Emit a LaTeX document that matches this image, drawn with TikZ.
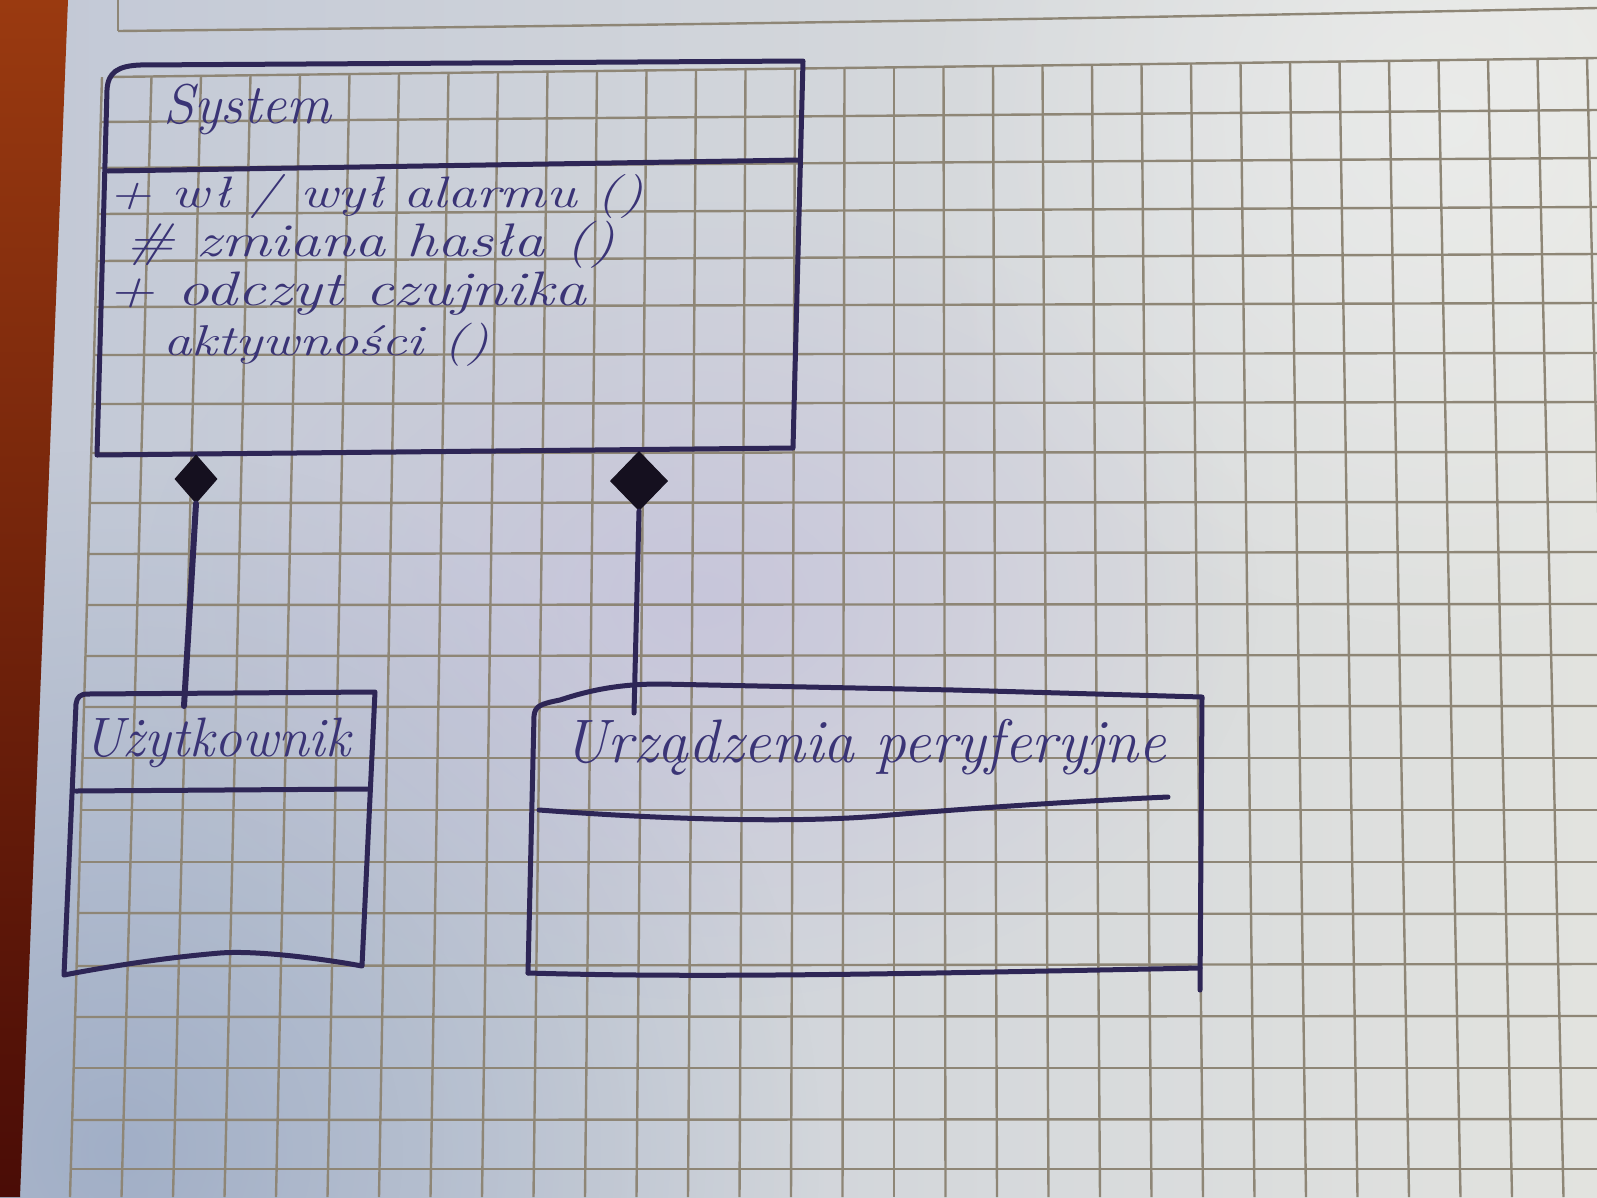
\documentclass[tikz,border=0pt]{standalone}
\usepackage{fontspec}
\usepackage{graphicx}
\usetikzlibrary{shapes.geometric,fadings}

\definecolor{ink}{HTML}{2E2656}
\definecolor{inktext}{HTML}{3A3476}
\definecolor{diamondink}{HTML}{15101F}
\definecolor{gridline}{HTML}{8E8676}
\definecolor{paperL}{HTML}{C2C8D6}
\definecolor{paperR}{HTML}{E2E3DF}
\definecolor{stripTop}{HTML}{9A3A10}
\definecolor{stripBottom}{HTML}{4A0C06}
\definecolor{shadowblue}{HTML}{8A9DBC}
\definecolor{lavender}{HTML}{BDB5DC}

\tikzfading[name=softspot, inner color=transparent!0, outer color=transparent!100]

% handwritten-style label of a given width
\newcommand{\hw}[2]{\resizebox{#1pt}{!}{\fontsize{40}{48}\selectfont\itshape #2}}
% the same, squeezed vertically for the member lines
\newcommand{\hwm}[2]{\scalebox{1}[0.76]{\hw{#1}{#2}}}

\begin{document}
\begin{tikzpicture}[x=1pt,y=-1pt,
  pen/.style={draw=ink, line width=5pt, line cap=round, line join=round},
  rule/.style={draw=gridline, line width=2.4pt},
  hand/.style={inner sep=0pt, text=inktext, anchor=base west},
  compo/.style={diamond, fill=diamondink, draw=diamondink, line width=1pt, inner sep=0pt}]
\useasboundingbox (0,0) rectangle (1597,1197);

% paper with uneven lighting
\shade[left color=paperL, right color=paperR] (0,0) rectangle (1597,1197);
\fill[shadowblue, path fading=softspot, fill opacity=0.6] (120,1150) circle (700);
\fill[lavender, path fading=softspot, fill opacity=0.45] (700,600) ellipse (560 and 400);
\fill[white, path fading=softspot, fill opacity=0.35] (1450,120) circle (550);

% binding strip on the left
\shade[top color=stripTop, bottom color=stripBottom] (0,0) -- (68,0) -- (20,1197) -- (0,1197) -- cycle;

% margin rules at the top of the sheet
\draw[rule] (118,0) -- (118,31);
\draw[rule] (118,31) .. controls (600,26) and (1100,19) .. (1597,8);
\draw[rule] (108,77) .. controls (600,71) and (1100,65) .. (1597,58);

% squared grid
\foreach \k in {-16,...,14} {
  \pgfmathsetmacro\xt{894+49.5*\k}
  \pgfmathsetmacro\yt{77-(\xt-110)*0.0128}
  \pgfmathsetmacro\xb{894+51.5*\k}
  \draw[rule] (\xt,\yt) -- (\xb,1197);
}
\foreach \yl/\yr in {122/110,168/158,214/207,261/254,307/303,355/353,404/402,453/452,
                     503/502,554/552,605/604,656/655,707/706,758/758,810/810,862/862,
                     913/914,966/964,1017/1016,1068/1068,1120/1119,1169/1169} {
  \pgfmathsetmacro\xl{102-(\yl-75)*0.02852}
  \draw[rule] (\xl,\yl) -- (1597,\yr);
}

% class System
\draw[pen] (97,455) -- (107,90) .. controls (108,72) and (118,66) .. (140,65)
  -- (803,61) -- (793,448) -- cycle;
\draw[pen] (108,171) -- (800,160);
\node[hand] (sysname) at (163,123) {\hw{168}{System}};
\node[hand] (op1) at (108,207) {\hwm{535}{+ wł / wył alarmu ()}};
\node[hand] (op2) at (125,256) {\hwm{490}{\# zmiana hasła ()}};
\node[hand] (op3) at (107,305) {\hwm{479}{+ odczyt czujnika}};
\node[hand] (op4) at (163,355) {\hwm{326}{aktywności ()}};

% class Użytkownik
\draw[pen] (64,975) -- (76,704) .. controls (77,697) and (80,694) .. (88,694)
  -- (375,692) -- (362,966) .. controls (330,960) and (260,950) .. (220,953)
  .. controls (160,958) and (100,968) .. (64,975);
\draw[pen] (76,791) -- (369,789);
\node[hand] (uzname) at (83,756) {\hw{267}{Użytkownik}};

% class Urządzenia peryferyjne
\draw[pen] (528,973) -- (534,716) .. controls (535,706) and (540,704) .. (560,700)
  .. controls (590,690) and (620,684) .. (660,684) -- (954,690) -- (1202,697) -- (1200,990);
\draw[pen] (528,973) .. controls (700,978) and (900,974) .. (1200,968);
\draw[pen] (539,810) .. controls (700,822) and (820,822) .. (890,815)
  .. controls (1000,806) and (1100,800) .. (1168,797);
\node[hand] (urname) at (563,762) {\hw{603}{Urządzenia peryferyjne}};

% composition links
\node[compo, minimum width=42pt, minimum height=48pt] (compA) at (196,479) {};
\node[compo, minimum width=57pt, minimum height=59pt] (compB) at (639,481) {};
\coordinate (uzEnd) at (184,706);
\coordinate (urEnd) at (634,713);
\draw[pen, line width=6pt] (compA.south) -- (uzEnd);
\draw[pen] (compB.south) -- (urEnd);
\end{tikzpicture}
\end{document}
